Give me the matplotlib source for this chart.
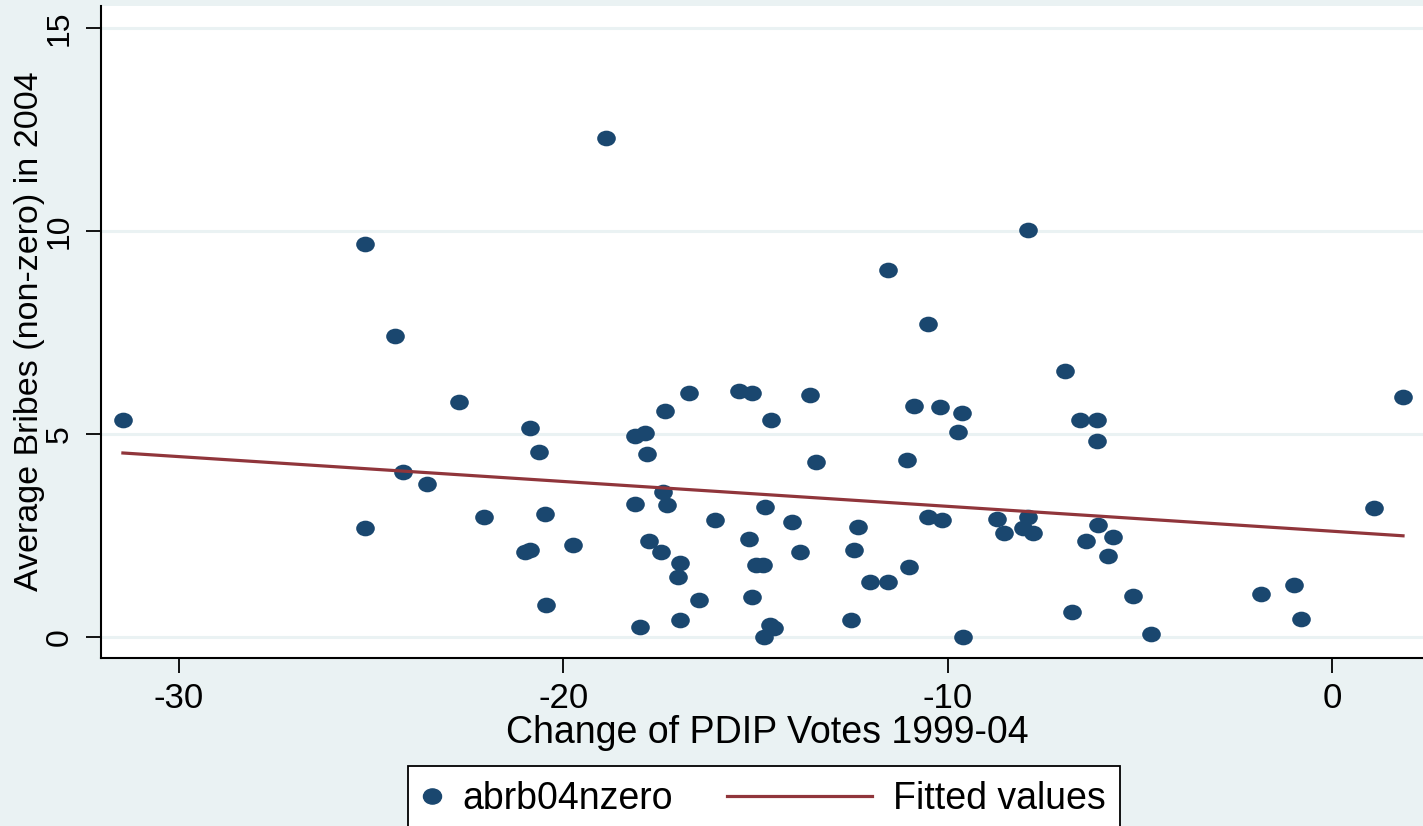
import numpy as np
import matplotlib
matplotlib.use("Agg")
import matplotlib.pyplot as plt
from matplotlib.path import Path
from matplotlib.transforms import Affine2D
from matplotlib.lines import Line2D
from matplotlib.legend_handler import HandlerBase

plt.rcParams['font.family'] = ['Liberation Sans', 'DejaVu Sans']

# data
pdip_change = [-31.46, -25.16, -25.16, -24.38, -24.17, -23.55, -22.72, -22.07, -21.00, -20.87,
               -20.87, -20.63, -20.48, -20.45, -19.76, -18.89, -18.14, -18.14, -18.01, -17.88,
               -17.82, -17.77, -17.46, -17.41, -17.36, -17.30, -16.97, -17.02, -16.97, -16.73,
               -16.47, -16.06, -15.43, -15.17, -15.09, -15.09, -14.99, -14.81, -14.75, -14.78,
               -14.62, -14.52, -14.60, -14.05, -13.84, -13.58, -13.43, -12.52, -12.44, -12.33,
               -12.02, -11.55, -11.55, -11.06, -11.01, -10.88, -10.51, -10.51, -10.20, -10.15,
               -9.73, -9.63, -9.60, -8.72, -8.54, -8.04, -7.91, -7.91, -7.78, -6.95,
               -6.77, -6.56, -6.40, -6.12, -6.12, -6.09, -5.83, -5.70, -5.18, -4.71,
               -1.85, -0.99, -0.81, 1.09, 1.85]
bribes = [5.34, 9.68, 2.68, 7.41, 4.06, 3.77, 5.79, 2.96, 2.10, 2.14,
          5.15, 4.56, 3.03, 0.79, 2.27, 12.30, 4.96, 3.28, 0.25, 5.02,
          4.51, 2.36, 2.10, 3.57, 5.57, 3.25, 1.82, 1.48, 0.42, 6.01,
          0.91, 2.88, 6.06, 2.41, 6.01, 0.99, 1.77, 1.77, 3.20, 0.00,
          0.30, 0.22, 5.34, 2.83, 2.10, 5.96, 4.31, 0.42, 2.14, 2.71,
          1.35, 1.35, 9.04, 4.36, 1.72, 5.69, 7.71, 2.96, 5.67, 2.88,
          5.05, 5.52, 0.00, 2.91, 2.56, 2.68, 2.96, 10.03, 2.56, 6.55,
          0.62, 5.34, 2.36, 5.34, 4.83, 2.76, 2.00, 2.46, 1.00, 0.07,
          1.06, 1.29, 0.44, 3.18, 5.91]
fit_x = [-31.46, 1.85]
fit_y = [4.53, 2.49]
xticks = [-30, -20, -10, 0]
yticks = [0, 5, 10, 15]

navy = '#1A476F'
maroon = '#90353B'
bg = '#EAF2F3'

# stata dots come out a bit wide
dot = Path.unit_circle().transformed(Affine2D().scale(1.19, 1.0))

fig = plt.figure(figsize=(14.23, 8.26), dpi=100, facecolor=bg)
ax = fig.add_axes([101/1423, 168/826, 1 - 101/1423, 652/826])
ax.set_facecolor('white')

ax.scatter(pdip_change, bribes, s=180, marker=dot, color=navy, linewidths=0, zorder=3)
ax.plot(fit_x, fit_y, color=maroon, lw=2.3, zorder=4)

ax.set_xlim(-32.03, 2.37)
ax.set_ylim(-0.52, 15.54)
ax.set_xticks(xticks)
ax.set_yticks(yticks)
ax.set_xticklabels([str(t) for t in xticks], fontsize=25)
ax.set_yticklabels([str(t) for t in yticks], rotation=90, va='center', fontsize=23)
ax.tick_params(axis='both', length=11, width=1.3, color='black')
ax.tick_params(axis='y', pad=8)
ax.tick_params(axis='x', pad=6)
ax.yaxis.grid(True, color=bg, lw=2.2)
ax.set_axisbelow(True)
for s in ['top', 'right']:
    ax.spines[s].set_visible(False)
for s in ['left', 'bottom']:
    ax.spines[s].set_linewidth(1.5)

ax.set_xlabel('Change of PDIP Votes 1999-04', fontsize=27)
ax.xaxis.set_label_coords((767 - 101) / 1322, -(733 - 658) / 652)
ax.xaxis.label.set_va('center')
ax.set_ylabel('Average Bribes (non-zero) in 2004', fontsize=24.5)
ax.yaxis.set_label_coords((30 - 101) / 1322, (658 - 331) / 652)
ax.yaxis.label.set_va('center')


class DotHandler(HandlerBase):
    def create_artists(self, legend, orig_handle, xdescent, ydescent, width, height, fontsize, trans):
        m = Line2D([width/2 - xdescent], [height/2 - ydescent], marker=dot, markersize=13,
                   color=navy, linestyle='none', transform=trans)
        return [m]


class LongLineHandler(HandlerBase):
    def create_artists(self, legend, orig_handle, xdescent, ydescent, width, height, fontsize, trans):
        y = height/2 - ydescent
        ln = Line2D([width - xdescent - 104, width - xdescent], [y, y], color=maroon, lw=2.3,
                    transform=trans)
        return [ln]


h_dot = Line2D([], [], color=navy)
h_line = Line2D([], [], color=maroon)
leg = fig.legend([h_dot, h_line], ['abrb04nzero', 'Fitted values'], ncol=2,
                 loc='upper center', bbox_to_anchor=(764/1423, 60/826),
                 handler_map={h_dot: DotHandler(), h_line: LongLineHandler()},
                 fontsize=27, handlelength=0.5, handletextpad=0.56, columnspacing=4.8,
                 borderpad=0.4, borderaxespad=0, frameon=True, fancybox=False,
                 edgecolor='black', facecolor='white', framealpha=1)
leg.get_frame().set_linewidth(1.3)

fig.savefig('out.png', dpi=100, facecolor=bg)
